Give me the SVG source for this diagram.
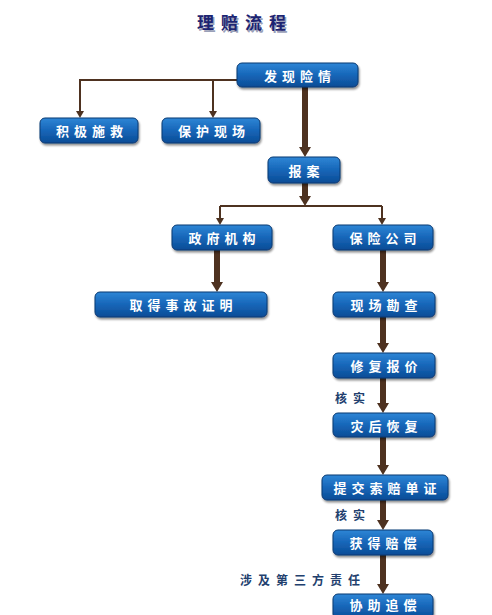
<svg xmlns="http://www.w3.org/2000/svg" width="492" height="615" viewBox="0 0 492 615">
<defs>
<linearGradient id="g" x1="0" y1="0" x2="0" y2="1">
<stop offset="0" stop-color="#2f86d6"/>
<stop offset="0.5" stop-color="#1666b8"/>
<stop offset="1" stop-color="#0c4c96"/>
</linearGradient>
<marker id="big" viewBox="0 0 10 12" refX="0" refY="6" markerWidth="10" markerHeight="12" markerUnits="userSpaceOnUse" orient="auto">
<path d="M0,0 L10,6 L0,12 z" fill="#4e3220"/>
</marker>
<marker id="small" viewBox="0 0 7 8" refX="0" refY="4" markerWidth="7" markerHeight="8" markerUnits="userSpaceOnUse" orient="auto">
<path d="M0,0 L7,4 L0,8 z" fill="#4e3220"/>
</marker>
<filter id="sh" x="-10%" y="-20%" width="130%" height="160%">
<feGaussianBlur in="SourceAlpha" stdDeviation="1.2"/>
<feOffset dx="1" dy="1.5" result="b"/>
<feComponentTransfer><feFuncA type="linear" slope="0.45"/></feComponentTransfer>
<feMerge><feMergeNode/><feMergeNode in="SourceGraphic"/></feMerge>
</filter>
</defs>
<style>
.box{fill:url(#g);stroke:#0a3a72;stroke-width:1;filter:url(#sh)}
.t{font-family:"Noto Sans CJK SC","Noto Sans",sans-serif;font-size:13px;font-weight:bold;fill:#ffffff;letter-spacing:5px;text-anchor:middle;dominant-baseline:central}
.lbl{font-family:"Noto Sans CJK SC","Noto Sans",sans-serif;font-size:12px;font-weight:bold;fill:#22406e;letter-spacing:6px}
.thick{stroke:#4e3220;stroke-width:6;fill:none}
.thin{stroke:#4e3220;stroke-width:2;fill:none}
</style>
<rect width="492" height="615" fill="#ffffff"/>
<text x="245" y="29" font-family="Noto Sans CJK SC, sans-serif" font-size="17" font-weight="bold" fill="#9aa0b8" letter-spacing="7" text-anchor="middle" transform="translate(1.5,1.5)">理赔流程</text>
<text x="245" y="29" font-family="Noto Sans CJK SC, sans-serif" font-size="17" font-weight="bold" fill="#1c2472" letter-spacing="7" text-anchor="middle">理赔流程</text>

<g id="connectors">
<path class="thin" d="M237,80 H80 V111" marker-end="url(#small)"/>
<path class="thin" d="M213,80 V111" marker-end="url(#small)"/>
<path class="thick" d="M305,87 V147" marker-end="url(#big)"/>
<path class="thick" d="M305,183 V196" marker-end="url(#big)"/>
<path class="thin" d="M220,206 H382"/>
<path class="thin" d="M220,206 V218" marker-end="url(#small)"/>
<path class="thin" d="M382,206 V218" marker-end="url(#small)"/>
<path class="thick" d="M217,250 V282" marker-end="url(#big)"/>
<path class="thick" d="M383,250 V282" marker-end="url(#big)"/>
<path class="thick" d="M383,317 V343" marker-end="url(#big)"/>
<path class="thick" d="M383,378 V403" marker-end="url(#big)"/>
<path class="thick" d="M383,437 V465" marker-end="url(#big)"/>
<path class="thick" d="M383,500 V520" marker-end="url(#big)"/>
<path class="thick" d="M383,555 V584" marker-end="url(#big)"/>
</g>

<g id="n1"><rect class="box" x="237" y="63" width="121" height="24" rx="5"/><text class="t" x="300" y="75">发现险情</text></g>
<g id="n2"><rect class="box" x="40" y="118" width="98" height="25" rx="5"/><text class="t" x="92" y="130.5">积极施救</text></g>
<g id="n3"><rect class="box" x="162" y="118" width="98" height="25" rx="5"/><text class="t" x="214" y="130.5">保护现场</text></g>
<g id="n4"><rect class="box" x="268" y="157" width="72" height="26" rx="5"/><text class="t" x="306.5" y="170">报案</text></g>
<g id="n5"><rect class="box" x="172" y="225" width="100" height="25" rx="5"/><text class="t" x="224.5" y="237.5">政府机构</text></g>
<g id="n6"><rect class="box" x="333" y="225" width="100" height="25" rx="5"/><text class="t" x="385.5" y="237.5">保险公司</text></g>
<g id="n7"><rect class="box" x="95" y="292" width="172" height="25" rx="5"/><text class="t" x="183.5" y="304.5">取得事故证明</text></g>
<g id="n8"><rect class="box" x="333" y="292" width="102" height="25" rx="5"/><text class="t" x="386.5" y="304.5">现场勘查</text></g>
<g id="n9"><rect class="box" x="333" y="353" width="102" height="25" rx="5"/><text class="t" x="386.5" y="365.5">修复报价</text></g>
<g id="n10"><rect class="box" x="333" y="413" width="102" height="24" rx="5"/><text class="t" x="386.5" y="425">灾后恢复</text></g>
<g id="n11"><rect class="box" x="322" y="475" width="126" height="25" rx="5"/><text class="t" x="387.5" y="487.5">提交索赔单证</text></g>
<g id="n12"><rect class="box" x="333" y="530" width="100" height="25" rx="5"/><text class="t" x="385.5" y="542.5">获得赔偿</text></g>
<g id="n13"><rect class="box" x="333" y="594" width="100" height="25" rx="5"/><text class="t" x="385.5" y="604">协助追偿</text></g>

<g id="labels">
<text class="lbl" x="335" y="403">核实</text>
<text class="lbl" x="335" y="520">核实</text>
<text class="lbl" x="240" y="585">涉及第三方责任</text>
</g>
</svg>
